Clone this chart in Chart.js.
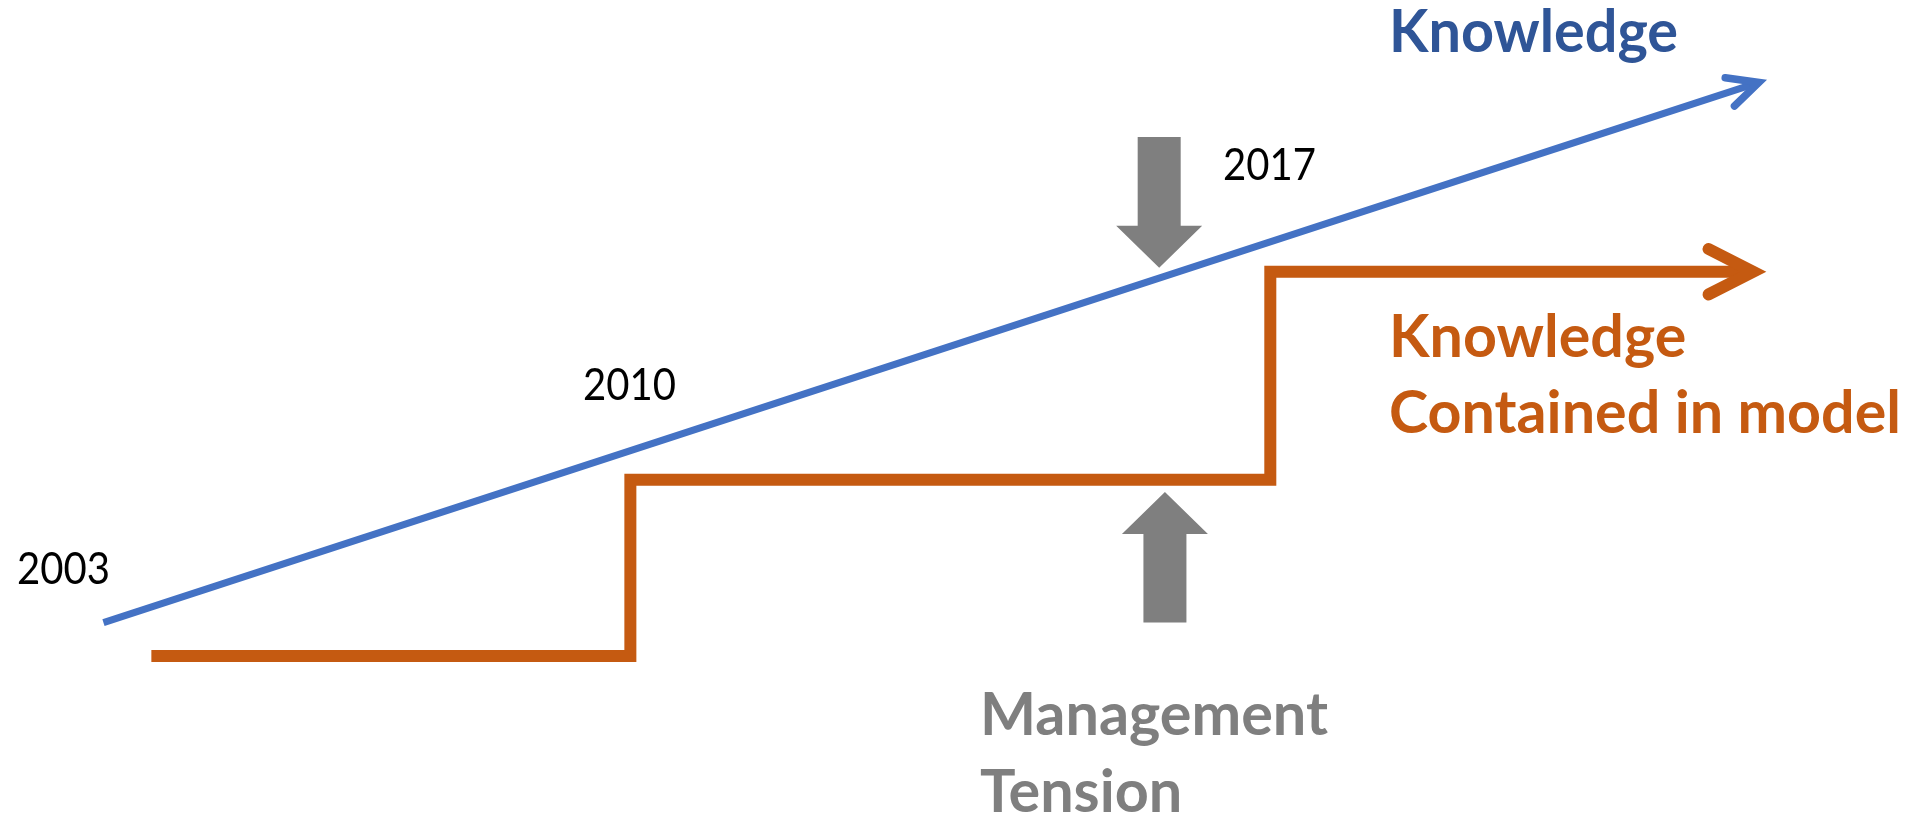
<!DOCTYPE html>
<html>
<head>
<meta charset="utf-8">
<script src="https://cdn.jsdelivr.net/npm/chart.js@4/dist/chart.umd.min.js"></script>
<style>
  html, body { margin: 0; padding: 0; background: #ffffff; }
  #wrap { width: 1916px; height: 816px; position: relative; }
</style>
</head>
<body>
<div id="wrap"><canvas id="c"></canvas></div>
<script>
// ---- Data (abstract units: x = time 0..100, y = knowledge level 0..100) ----
const yearLabels = ['2003', '2010', '2017'];
const knowledgeX = [5.4, 91.8];
const knowledgeY = [23.7, 89.9];
const modelX = [7.9, 32.9, 66.3, 91.5];
const modelY = [19.6, 41.2, 66.7, 66.7];
const tensionX = [60.5, 60.8];
const tensionFrom = [83.2, 23.7];
const tensionTo = [67.2, 39.7];
const knowledgeLabel = ['Knowledge'];
const modelLabel = ['Knowledge', 'Contained in model'];
const tensionLabel = ['Management', 'Tension'];

const BLUE = '#4472C4', BLUE_TXT = '#2F5597', ORANGE = '#C55A11', GRAY = '#7F7F7F';

const knowledgeData = knowledgeX.map((x, i) => ({ x, y: knowledgeY[i] }));
const modelData = modelX.map((x, i) => ({ x, y: modelY[i] }));

const FONT = 'Lato, "Open Sans", sans-serif';
function fontFor(capH, weight) { return weight + ' ' + (capH / 0.7165) + 'px ' + FONT; }
function measureScale(ctx, text, capH, width, weight) {
  ctx.save();
  ctx.font = fontFor(capH, weight);
  const w = ctx.measureText(text).width;
  ctx.restore();
  return width / w;
}
function drawTextScaled(ctx, text, left, baseline, capH, sx, weight, color) {
  ctx.save();
  ctx.font = fontFor(capH, weight);
  ctx.fillStyle = color;
  ctx.textBaseline = 'alphabetic';
  ctx.textAlign = 'left';
  ctx.translate(left, baseline);
  ctx.scale(sx, 1);
  ctx.fillText(text, 0, 0);
  ctx.restore();
}

const annotate = {
  id: 'annotate',
  afterDatasetsDraw(chart) {
    const ctx = chart.ctx;
    const xs = chart.scales.x, ys = chart.scales.y;

    // arrowheads at the end of each line dataset
    const heads = [
      { data: knowledgeData, color: BLUE, lw: 7.5, len: 34, ang: 26 },
      { data: modelData, color: ORANGE, lw: 12, len: 50, ang: 27 }
    ];
    heads.forEach(h => {
      const n = h.data.length;
      const tx = xs.getPixelForValue(h.data[n - 1].x), ty = ys.getPixelForValue(h.data[n - 1].y);
      const px = xs.getPixelForValue(h.data[n - 2].x), py = ys.getPixelForValue(h.data[n - 2].y);
      const back = Math.atan2(py - ty, px - tx);
      const a = h.ang * Math.PI / 180;
      ctx.save();
      ctx.strokeStyle = h.color;
      ctx.lineWidth = h.lw;
      ctx.lineCap = 'round';
      ctx.lineJoin = 'miter';
      ctx.beginPath();
      ctx.moveTo(tx + h.len * Math.cos(back + a), ty + h.len * Math.sin(back + a));
      ctx.lineTo(tx, ty);
      ctx.lineTo(tx + h.len * Math.cos(back - a), ty + h.len * Math.sin(back - a));
      ctx.stroke();
      ctx.restore();
    });

    // gray block arrows (management tension)
    const sw = 21.5, hw = 43, hl = 42;
    tensionX.forEach((xv, i) => {
      const cx = xs.getPixelForValue(xv);
      const y0 = ys.getPixelForValue(tensionFrom[i]);
      const y1 = ys.getPixelForValue(tensionTo[i]);
      const d = y1 > y0 ? 1 : -1;
      const yb = y1 - d * hl;
      ctx.save();
      ctx.fillStyle = GRAY;
      ctx.beginPath();
      ctx.moveTo(cx - sw, y0);
      ctx.lineTo(cx + sw, y0);
      ctx.lineTo(cx + sw, yb);
      ctx.lineTo(cx + hw, yb);
      ctx.lineTo(cx, y1);
      ctx.lineTo(cx - hw, yb);
      ctx.lineTo(cx - sw, yb);
      ctx.closePath();
      ctx.fill();
      ctx.restore();
    });

    // year labels
    const yearPos = [[17, 584], [583, 400], [1223, 180]];
    yearLabels.forEach((t, i) => {
      const sx = measureScale(ctx, t, 32, 93, '400');
      drawTextScaled(ctx, t, yearPos[i][0], yearPos[i][1], 32, sx, '400', '#000000');
    });

    // series labels
    const capB = 42;
    const sxK = measureScale(ctx, knowledgeLabel[0], capB, 289, '700');
    drawTextScaled(ctx, knowledgeLabel[0], 1389, 52, capB, sxK, '700', BLUE_TXT);
    const sxM = measureScale(ctx, modelLabel[1], capB, 512, '700');
    drawTextScaled(ctx, modelLabel[0], 1389, 357, capB, sxM, '700', ORANGE);
    drawTextScaled(ctx, modelLabel[1], 1389, 433, capB, sxM, '700', ORANGE);
    const sxT = measureScale(ctx, tensionLabel[0], capB, 348, '700');
    drawTextScaled(ctx, tensionLabel[0], 980, 735, capB, sxT, '700', GRAY);
    drawTextScaled(ctx, tensionLabel[1], 980, 812, capB, sxT, '700', GRAY);
  }
};

new Chart(document.getElementById('c'), {
  type: 'scatter',
  data: {
    datasets: [
      {
        label: knowledgeLabel[0],
        data: knowledgeData,
        showLine: true,
        borderColor: BLUE,
        borderWidth: 7,
        borderCapStyle: 'butt',
        pointRadius: 0,
        clip: false
      },
      {
        label: modelLabel.join(' '),
        data: modelData,
        showLine: true,
        stepped: 'before',
        borderColor: ORANGE,
        borderWidth: 12,
        borderCapStyle: 'butt',
        borderJoinStyle: 'miter',
        pointRadius: 0,
        clip: false
      }
    ]
  },
  options: {
    responsive: true,
    maintainAspectRatio: false,
    animation: false,
    layout: { padding: 0 },
    plugins: { legend: { display: false }, tooltip: { enabled: false } },
    scales: {
      x: { type: 'linear', display: false, min: 0, max: 100 },
      y: { type: 'linear', display: false, min: 0, max: 100 }
    }
  },
  plugins: [annotate]
});
</script>
</body>
</html>
